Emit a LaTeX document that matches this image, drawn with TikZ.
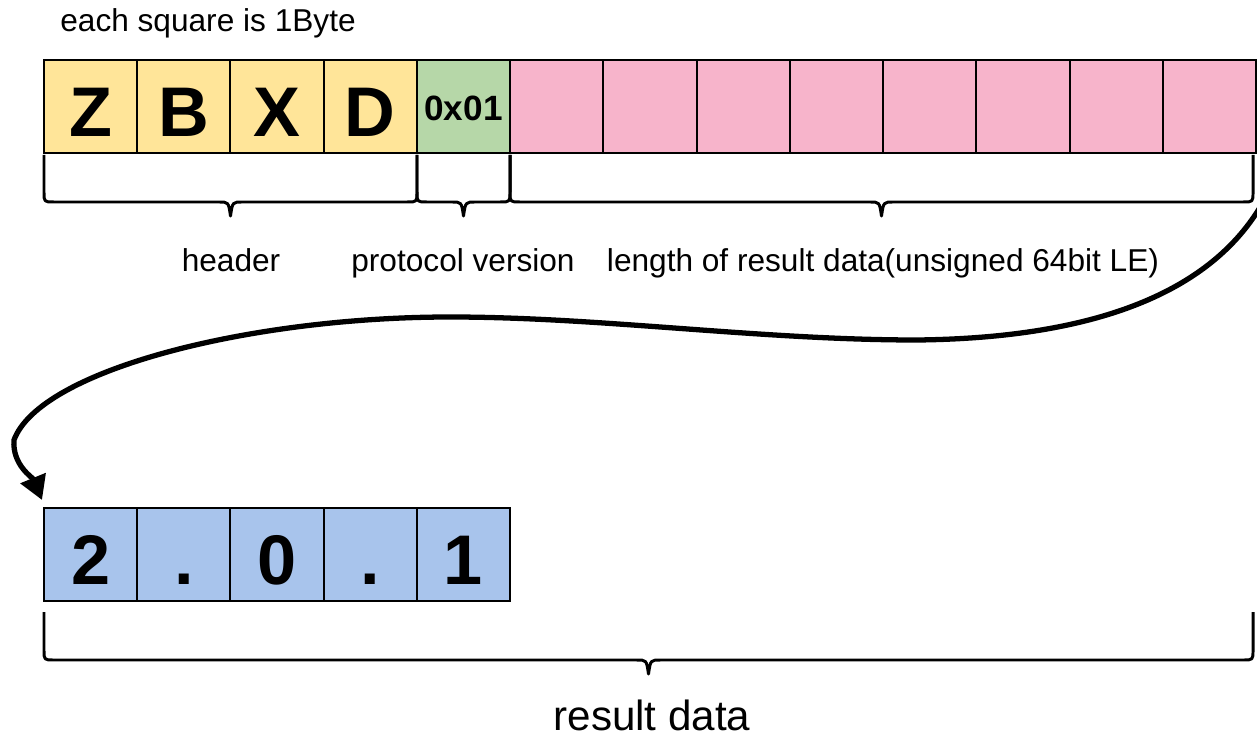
\documentclass[tikz,border=0pt]{standalone}
\usepackage{fontspec}
\setmainfont{Liberation Sans}
\usetikzlibrary{positioning, arrows.meta}

\definecolor{hdryellow}{HTML}{FFE599}
\definecolor{vergreen}{HTML}{B6D7A8}
\definecolor{lenpink}{HTML}{F7B4CB}
\definecolor{resblue}{HTML}{A8C4EC}

% x1, x2, top of the legs, level of the bar
\newcommand{\fieldbrace}[4]{%
  \draw[brace line] (#1,#3) -- (#1,{#4-10}) .. controls (#1,#4) .. ({#1+10},#4)
    -- ({(#1+#2)/2-12},#4) .. controls ({(#1+#2)/2-2},#4) .. ({(#1+#2)/2},{#4+14})
    .. controls ({(#1+#2)/2+2},#4) .. ({(#1+#2)/2+12},#4)
    -- ({#2-10},#4) .. controls (#2,#4) .. (#2,{#4-10}) -- (#2,#3);
}

\begin{document}
\begin{tikzpicture}[x=0.02cm, y=-0.02cm,
    byte/.style={draw, line width=1.1pt, minimum width=1.865cm, minimum height=1.86cm,
      inner sep=0pt, outer sep=0pt},
    bigbyte/.style={byte, font=\fontsize{40}{40}\selectfont\bfseries,
      text height=34.6pt, text depth=0pt},
    smallbyte/.style={byte, font=\fontsize{20}{20}\selectfont\bfseries,
      text height=16.4pt, text depth=0pt},
    lbl/.style={font=\fontsize{18}{18}\selectfont, inner sep=0pt, anchor=base},
    brace line/.style={line width=1.7pt, line join=round}]
    \useasboundingbox (0,0) rectangle (1257,739);

    % header, version and length bytes
    \node[bigbyte, fill=hdryellow] (z) at (90.6,106.5) {Z};
    \node[bigbyte, fill=hdryellow, right=0pt of z] (b) {B};
    \node[bigbyte, fill=hdryellow, right=0pt of b] (x) {X};
    \node[bigbyte, fill=hdryellow, right=0pt of x] (d) {D};
    \node[smallbyte, fill=vergreen, right=0pt of d] (ver) {0x01};
    \node[byte, fill=lenpink, right=0pt of ver] (len1) {};
    \node[byte, fill=lenpink, right=0pt of len1] (len2) {};
    \node[byte, fill=lenpink, right=0pt of len2] (len3) {};
    \node[byte, fill=lenpink, right=0pt of len3] (len4) {};
    \node[byte, fill=lenpink, right=0pt of len4] (len5) {};
    \node[byte, fill=lenpink, right=0pt of len5] (len6) {};
    \node[byte, fill=lenpink, right=0pt of len6] (len7) {};
    \node[byte, fill=lenpink, right=0pt of len7] (len8) {};

    % result bytes
    \node[bigbyte, fill=resblue] (v1) at (90.6,554.5) {2};
    \node[bigbyte, fill=resblue, right=0pt of v1] (v2) {.};
    \node[bigbyte, fill=resblue, right=0pt of v2] (v3) {0};
    \node[bigbyte, fill=resblue, right=0pt of v3] (v4) {.};
    \node[bigbyte, fill=resblue, right=0pt of v4] (v5) {1};

    \fieldbrace{44}{417}{155}{202}
    \fieldbrace{417}{510}{155}{202}
    \fieldbrace{510}{1253}{155}{202}
    \fieldbrace{44}{1253}{612}{660}

    \node[lbl, anchor=base west] (note) at (60,32) {each square is 1Byte};
    \node[lbl] (hdr) at (231,272) {header};
    \node[lbl] (proto) at (463,272) {protocol version};
    \node[lbl] (lenlbl) at (883,272) {length of result data(unsigned 64bit LE)};
    \node[lbl, font=\fontsize{24}{24}\selectfont] (reslbl) at (652,730) {result data};

    \coordinate (from) at (1262,204);
    \coordinate (into) at (42,500);
    \draw[line width=3pt, -{Triangle[length=13.5pt,width=15pt]}] (from)
      .. controls (1212,290) and (1100,338) .. (917,340)
      .. controls (760,340) and (600,317) .. (450,317)
      .. controls (250,317) and (40,370) .. (14,440)
      .. controls (12,465) and (33,478) .. (into);
\end{tikzpicture}
\end{document}
